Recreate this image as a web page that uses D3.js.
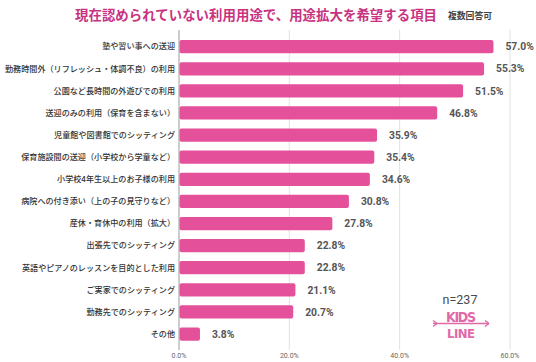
<!DOCTYPE html>
<html><head><meta charset="utf-8">
<script src="https://cdn.jsdelivr.net/npm/d3@7"></script>
<style>html,body{margin:0;padding:0;background:#fff;}svg{display:block;}</style>
</head><body>
<svg id="c" width="536" height="362"></svg>
<script>
const categories = [
  "塾や習い事への送迎",
  "勤務時間外（リフレッシュ・体調不良）の利用",
  "公園など長時間の外遊びでの利用",
  "送迎のみの利用（保育を含まない）",
  "児童館や図書館でのシッティング",
  "保育施設間の送迎（小学校から学童など）",
  "小学校4年生以上のお子様の利用",
  "病院への付き添い（上の子の見守りなど）",
  "産休・育休中の利用（拡大）",
  "出張先でのシッティング",
  "英語やピアノのレッスンを目的とした利用",
  "ご実家でのシッティング",
  "勤務先でのシッティング",
  "その他"
];
const values = [57.0, 55.3, 51.5, 46.8, 35.9, 35.4, 34.6, 30.8, 27.8, 22.8, 22.8, 21.1, 20.7, 3.8];
const tickValues = [0, 20, 40, 60];
const titleText = "現在認められていない利用用途で、用途拡大を希望する項目";
const noteText = "複数回答可";
const sampleText = "n=237";

const svg = d3.select("#c");
const jp = "'Noto Sans CJK JP', 'Noto Sans', sans-serif";
const x = d3.scaleLinear().domain([0, 60]).range([179, 510]);
const y = d3.scaleBand().domain(categories).range([35.6, 345.1]).paddingInner(0.4).paddingOuter(0.2);

// gridlines
svg.append("g").selectAll("line").data(tickValues).join("line")
  .attr("x1", d => x(d)).attr("x2", d => x(d))
  .attr("y1", 30).attr("y2", 350)
  .attr("stroke", d => d === 0 ? "#9a9a9a" : "#e2e2e2")
  .attr("stroke-width", 1);

// tick labels
svg.append("g").selectAll("text").data(tickValues).join("text")
  .attr("x", d => x(d)).attr("y", 358)
  .attr("text-anchor", "middle")
  .attr("font-family", "Roboto, sans-serif").attr("font-size", 7)
  .attr("fill", "#666")
  .text(d => d.toFixed(1) + "%");

// bars
svg.append("g").selectAll("rect").data(values).join("rect")
  .attr("x", x(0) + 0.5)
  .attr("y", (d, i) => y(categories[i]))
  .attr("width", d => x(d) - x(0) - 0.5)
  .attr("height", y.bandwidth())
  .attr("rx", 2)
  .attr("fill", "#e5509a");

// category labels
svg.append("g").selectAll("text").data(categories).join("text")
  .attr("x", 175)
  .attr("y", d => y(d) + y.bandwidth() / 2)
  .attr("dy", "0.35em")
  .attr("text-anchor", "end")
  .attr("font-family", jp).attr("font-size", 8.1)
  .attr("font-weight", 500)
  .attr("fill", "#333")
  .text(d => d);

// value labels
svg.append("g").selectAll("text").data(values).join("text")
  .attr("x", d => x(d) + 12)
  .attr("y", (d, i) => y(categories[i]) + y.bandwidth() / 2)
  .attr("dy", "0.36em")
  .attr("font-family", "Roboto, sans-serif").attr("font-size", 10.3)
  .attr("font-weight", 700)
  .attr("fill", "#555")
  .text(d => d.toFixed(1) + "%");

// title
svg.append("text")
  .attr("x", 75).attr("y", 20)
  .attr("font-family", jp).attr("font-size", 13.4).attr("font-weight", 700)
  .attr("fill", "#c8327f")
  .attr("textLength", 362)
  .text(titleText);
svg.append("text")
  .attr("x", 448).attr("y", 19)
  .attr("font-family", jp).attr("font-size", 8.8).attr("font-weight", 700)
  .attr("fill", "#444")
  .text(noteText);

// n label
svg.append("text")
  .attr("x", 460).attr("y", 304)
  .attr("text-anchor", "middle")
  .attr("font-family", "Roboto, sans-serif").attr("font-size", 12.5)
  .attr("fill", "#4a4a4a")
  .text(sampleText);

// logo
const logo = svg.append("g").attr("fill", "#e06aa8");
logo.append("text").attr("x", 461).attr("y", 322).attr("text-anchor", "middle")
  .attr("font-family", "'DejaVu Sans Condensed', sans-serif").attr("font-size", 14).attr("font-weight", 700)
  .attr("textLength", 30)
  .text("KIDS");
logo.append("text").attr("x", 461).attr("y", 338).attr("text-anchor", "middle")
  .attr("font-family", "'DejaVu Sans Condensed', sans-serif").attr("font-size", 13).attr("font-weight", 700)
  .attr("textLength", 28)
  .text("LINE");
logo.append("line").attr("x1", 433).attr("x2", 489).attr("y1", 323.5).attr("y2", 323.5)
  .attr("stroke", "#e06aa8").attr("stroke-width", 1.6);
logo.append("path").attr("d", "M433,320.5 L437,323.5 L433,326.5 M489,323.5 L485,320.5 M489,323.5 L485,326.5")
  .attr("stroke", "#e06aa8").attr("stroke-width", 1.4).attr("fill", "none");
</script>
</body></html>
